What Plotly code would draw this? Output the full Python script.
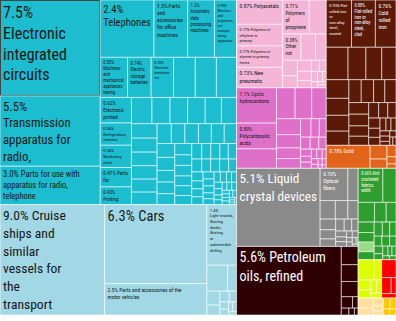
import plotly.graph_objects as go

FONT = "Roboto Condensed, DejaVu Sans Condensed, sans-serif"

# ---------------- export shares (% of total exports) ----------------
# Machines
machines_names = [
    "\nElectronic\nintegrated\ncircuits",
    "\nTransmission\napparatus for\nradio,",
    " Parts for use with\napparatus for radio,\ntelephone",
    "\nTelephones",
    " Parts\nand\naccessories\nfor office\nmachines",
    "\nAutomatic\ndata\nprocessing\nmachines",
    "\nMonitors\nand\nprojectors,\nnot\nincorpo-\nrating\napparatus",
    "\nMachines\nand\nmechanical\nappliances\nhaving",
    "\nElectric\nstorage\nbatteries",
    "\nElectrical\ntransform-\ners",
    "\nElectronic\nprinted",
    "\nRefrigerators,\nfreezers",
    "\nMachinery,\nplant",
    " Parts\nfor",
    "\nPrinting",
]
machines_values = [7.5, 5.5, 3.0, 2.4, 1.5, 1.2, 0.99, 0.85, 0.74, 0.70,
                   0.62, 0.54, 0.54, 0.47, 0.43]
machines_minor = [0.68, 0.66, 0.63,
                  0.42, 0.37, 0.36, 0.36, 0.33, 0.31, 0.29, 0.28, 0.27, 0.27,
                  0.26, 0.25, 0.22, 0.21, 0.21, 0.20, 0.20, 0.19, 0.19, 0.18,
                  0.16, 0.16, 0.15, 0.15, 0.14, 0.14, 0.13, 0.13, 0.12, 0.12,
                  0.11, 0.11, 0.10, 0.10, 0.10, 0.09, 0.09, 0.09, 0.08, 0.08,
                  0.07, 0.07, 0.07, 0.06, 0.06, 0.06, 0.05, 0.05, 0.05, 0.05,
                  0.04, 0.04, 0.04, 0.04, 0.03, 0.03, 0.03, 0.03, 0.03, 0.02,
                  0.02, 0.02, 0.02, 0.02, 0.02, 0.01, 0.01, 0.01, 0.01]

# Transportation
transport_names = [
    " Cruise\nships and\nsimilar\nvessels for\nthe\ntransport",
    " Cars",
    " Parts and accessories of the\nmotor vehicles",
    "\nLight-vessels,\nfloating\ndocks;\nfloating\nor\nsubmersible\ndrilling",
]
transport_values = [9.0, 6.3, 2.5, 1.4]
transport_minor = [0.42, 0.18, 0.14, 0.10, 0.08, 0.06, 0.05, 0.04, 0.03, 0.03, 0.02]

# Plastics and rubbers
plastics_names = [
    " Polyacetals",
    " Polymers of\nethylene in\nprimary",
    " Polymers of\nstyrene in primary\nforms",
    " New\npneumatic",
    "\nPolymers\nof\npropylene",
    "\nOther\nnot",
]
plastics_values = [0.87, 0.77, 0.77, 0.73, 0.71, 0.38]
plastics_minor = [0.45, 0.30, 0.22, 0.18, 0.14, 0.12, 0.10, 0.08, 0.07, 0.06,
                  0.05, 0.04, 0.03, 0.03, 0.02, 0.02]

# Chemical products
chemicals_names = [" Cyclic\nhydrocarbons", "\nPolycarboxylic\nacids"]
chemicals_values = [1.1, 0.80]
chemicals_minor = [0.60, 0.45, 0.40, 0.35, 0.30, 0.25, 0.20, 0.18, 0.15, 0.12,
                   0.10, 0.09, 0.08, 0.07, 0.06, 0.05, 0.05, 0.04, 0.04, 0.03,
                   0.03, 0.02, 0.02, 0.02, 0.01, 0.01]

# Metals
metals_names = [
    " Flat-\nrolled iron\nor\nnon-alloy\nsteel,\ncoated",
    "\nFlat-rolled\niron or\nnon-alloy\nsteel,\nclad",
    "\nCold\nrolled\niron",
]
metals_values = [0.93, 0.88, 0.76]
metals_minor = [0.55, 0.45, 0.40, 0.36, 0.33, 0.30, 0.28, 0.25, 0.22, 0.22,
                0.20, 0.20, 0.18, 0.18, 0.16, 0.14, 0.12, 0.11, 0.10, 0.09,
                0.08, 0.07, 0.06, 0.05, 0.05, 0.04, 0.04, 0.03, 0.03, 0.02, 0.02]

# Precious metals
precious_names = [" Gold"]
precious_values = [0.78]
precious_minor = [0.18, 0.12, 0.08, 0.05, 0.03]

# Instruments
instruments_names = [" Liquid\ncrystal devices", "\nOptical\nfibers"]
instruments_values = [5.1, 0.70]
instruments_minor = [0.26, 0.22, 0.18, 0.15, 0.13, 0.11, 0.09, 0.08, 0.07, 0.06,
                     0.05, 0.04, 0.04, 0.03, 0.03, 0.02, 0.02, 0.02, 0.01, 0.01]

# Mineral products
minerals_names = [" Petroleum\noils, refined"]
minerals_values = [5.6]
minerals_minor = [0.24, 0.22, 0.20, 0.10, 0.05, 0.04, 0.03, 0.02]

# Textiles
textiles_names = [" Knit\ncrocheted\nfabrics,\nwidth"]
textiles_values = [0.66]
textiles_minor = [0.35, 0.25, 0.18, 0.15, 0.13, 0.12, 0.10, 0.09, 0.08, 0.07,
                  0.06, 0.06, 0.05, 0.05, 0.04, 0.04, 0.03, 0.03, 0.02, 0.02]
hides_minor = [0.12]

# Remaining small groups
vegetable_minor = [0.25, 0.12, 0.10, 0.08, 0.06, 0.05, 0.04]
stone_minor = [0.20, 0.12, 0.06, 0.05]
footwear_minor = [0.12, 0.08, 0.06, 0.04, 0.03]
foodstuffs_minor = [0.06, 0.05, 0.03, 0.03]

# ---------------- styling ----------------
DARK_TEXT = "#161616"
LIGHT_TEXT = "#ffffff"
SMALL_SIZE = 5.5
HEADLINE_SIZE = {
    ("machines", 0): 16, ("machines", 1): 14, ("machines", 2): 10.5,
    ("machines", 3): 11,
    ("transport", 0): 17, ("transport", 1): 14.5,
    ("instruments", 0): 14, ("minerals", 0): 14,
}

ids, parents, values, texts, colors, sizes, fcolors = [], [], [], [], [], [], []


def add(node_id, parent, value, text, color, size, fcolor):
    ids.append(node_id)
    parents.append(parent)
    values.append(value)
    texts.append(text)
    colors.append(color)
    sizes.append(size)
    fcolors.append(fcolor)


def share(v):
    return f"{v:.1f}%" if v >= 1 else f"{v:.2f}%"


def add_sector(sid, parent, color, fcolor, names, vals, minor):
    add(sid, parent, 0, "", color, SMALL_SIZE, fcolor)
    for i, (name, v) in enumerate(zip(names, vals)):
        label = (share(v) + name).replace("\n", "<br>")
        add(f"{sid}-{i}", sid, v, label, color,
            HEADLINE_SIZE.get((sid, i), SMALL_SIZE), fcolor)
    for j, v in enumerate(minor):
        add(f"{sid}-m{j}", sid, v, "", color, SMALL_SIZE, fcolor)


add("root", "", 0, "", "#ffffff", SMALL_SIZE, DARK_TEXT)
add_sector("machines", "root", "#1bbdcf", DARK_TEXT,
           machines_names, machines_values, machines_minor)
add_sector("transport", "root", "#a2d8e5", DARK_TEXT,
           transport_names, transport_values, transport_minor)
add("chem", "root", 0, "", "#f4b5d6", SMALL_SIZE, DARK_TEXT)
add_sector("plastics", "chem", "#f4b5d6", DARK_TEXT,
           plastics_names, plastics_values, plastics_minor)
add_sector("chemicals", "chem", "#df70c9", DARK_TEXT,
           chemicals_names, chemicals_values, chemicals_minor)
add("metal", "root", 0, "", "#5b1a08", SMALL_SIZE, LIGHT_TEXT)
add_sector("metals", "metal", "#5b1a08", LIGHT_TEXT,
           metals_names, metals_values, metals_minor)
add_sector("precious", "metal", "#e0651a", LIGHT_TEXT,
           precious_names, precious_values, precious_minor)
add_sector("instruments", "root", "#8a8a8a", LIGHT_TEXT,
           instruments_names, instruments_values, instruments_minor)
add_sector("minerals", "root", "#2e0004", LIGHT_TEXT,
           minerals_names, minerals_values, minerals_minor)
add_sector("textiles", "root", "#2e9e2e", LIGHT_TEXT,
           textiles_names, textiles_values, textiles_minor)
for k, v in enumerate(hides_minor):
    add(f"textiles-h{k}", "textiles", v, "", "#98dd88", SMALL_SIZE, DARK_TEXT)
add_sector("vegetable", "root", "#ddff00", DARK_TEXT, [], [], vegetable_minor)
add_sector("stone", "root", "#ff0000", LIGHT_TEXT, [], [], stone_minor)
add_sector("footwear", "root", "#ffdf9e", DARK_TEXT, [], [], footwear_minor)
add_sector("foodstuffs", "root", "#ffc800", DARK_TEXT, [], [], foodstuffs_minor)

fig = go.Figure(go.Treemap(
    ids=ids,
    parents=parents,
    values=values,
    labels=ids,
    text=texts,
    textinfo="text",
    textposition="top left",
    textfont=dict(family=FONT, size=sizes, color=fcolors),
    branchvalues="remainder",
    sort=True,
    marker=dict(colors=colors,
                line=dict(color="rgba(255,255,255,0.6)", width=1),
                pad=dict(t=0, l=0, r=0, b=0)),
    tiling=dict(packing="squarify", squarifyratio=1.618, pad=0),
    pathbar=dict(visible=False),
    hoverinfo="skip",
    maxdepth=-1,
))

fig.update_layout(
    width=396, height=321,
    margin=dict(l=0, r=0, t=0, b=6),
    paper_bgcolor="#ffffff",
    font=dict(family=FONT),
)

fig.write_html("out.html")
